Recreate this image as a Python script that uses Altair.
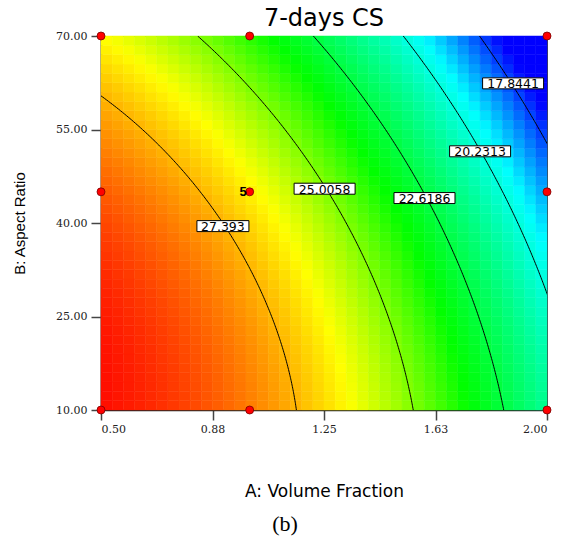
import altair as alt
import numpy as np
import pandas as pd

# ---------------- data ----------------
x_ticks = [0.5, 0.875, 1.25, 1.625, 2.0]
y_ticks = [10, 25, 40, 55, 70]
A_range = [0.5, 2.0]
B_range = [10.0, 70.0]

# quadratic response surface in coded units a=(A-1.25)/0.75, b=(B-40)/30
# coefficients estimated from where the contours cross the plot edges
coef_c0 = 25.50
coef_a = -4.82
coef_b = -2.27
coef_aa = -1.43
coef_bb = -0.87
coef_ab = -0.66

# response values where the colour ramp reaches blue, cyan, green, yellow, red
color_stop_values = [17.2, 19.7, 23.6, 26.4, 29.8]
color_stops = ["#0000ff", "#00ffff", "#00ff00", "#ffff00", "#ff0000"]

contour_levels = [17.8441, 20.2313, 22.6186, 25.0058, 27.393]
contour_texts = ["17.8441", "20.2313", "22.6186", "25.0058", "27.393"]
label_A = [1.886, 1.775, 1.588, 1.252, 0.910]
label_B = [62.4, 51.5, 44.0, 45.5, 39.5]

design_A = [0.5, 1.0, 2.0, 0.5, 1.0, 2.0, 0.5, 1.0, 2.0]
design_B = [70, 70, 70, 45, 45, 45, 10, 10, 10]
center_count_A = [1.0]
center_count_B = [45]
center_count_text = ["5"]

title_text = ["7-days CS"]
caption_text = ["(b)"]
n_cells = 40


def surface(A, B):
    a = (np.asarray(A) - 1.25) / 0.75
    b = (np.asarray(B) - 40.0) / 30.0
    return (coef_c0 + coef_a * a + coef_b * b + coef_aa * a * a
            + coef_bb * b * b + coef_ab * a * b)


# ---------------- tables ----------------
A_edges = np.linspace(A_range[0], A_range[1], n_cells + 1)
B_edges = np.linspace(B_range[0], B_range[1], n_cells + 1)
rows = []
for i in range(n_cells):
    for j in range(n_cells):
        ac = 0.5 * (A_edges[i] + A_edges[i + 1])
        bc = 0.5 * (B_edges[j] + B_edges[j + 1])
        rows.append({"A": A_edges[i], "A2": A_edges[i + 1],
                     "B": B_edges[j], "B2": B_edges[j + 1],
                     "z": float(surface(ac, bc))})
heat_df = pd.DataFrame(rows)

line_rows = []
bs = np.linspace(-1, 1, 241)
for lev in contour_levels:
    Bp = coef_a + coef_ab * bs
    Cp = coef_c0 + coef_b * bs + coef_bb * bs * bs - lev
    D = Bp * Bp - 4 * coef_aa * Cp
    for k, b in enumerate(bs):
        if D[k] < 0:
            continue
        a = (-Bp[k] - np.sqrt(D[k])) / (2 * coef_aa)
        if -1.06 <= a <= 1.06:
            line_rows.append({"level": lev, "A": 1.25 + 0.75 * a,
                              "B": 40 + 30 * b, "o": k})
line_df = pd.DataFrame(line_rows)

lab_df = pd.DataFrame({"A": label_A, "B": label_B, "t": contour_texts,
                       "n": [len(t) for t in contour_texts]})
pt_df = pd.DataFrame({"A": design_A, "B": design_B})
cnt_df = pd.DataFrame({"A": center_count_A, "B": center_count_B,
                       "t": center_count_text})
cap_df = pd.DataFrame({"t": caption_text})
ttl_df = pd.DataFrame({"t": title_text})

# ---------------- scales / axes ----------------
xscale = alt.Scale(domain=A_range, nice=False, zero=False)
yscale = alt.Scale(domain=B_range, nice=False, zero=False)
cscale = alt.Scale(domain=color_stop_values, range=color_stops,
                   interpolate="rgb", clamp=True)

xaxis = alt.Axis(values=x_ticks, format=".2f", grid=False,
                 title="A: Volume Fraction", titleFont="DejaVu Sans",
                 titleFontSize=17, titleFontWeight="normal", titleColor="#000",
                 titlePadding=49, labelFont="DejaVu Serif", labelFontSize=11,
                 labelColor="#222", labelPadding=3, tickSize=10, tickColor="#444",
                 tickWidth=1.5, domainColor="#222", domainWidth=1.5)
yaxis = alt.Axis(values=y_ticks, format=".2f", grid=False,
                 title="B: Aspect Ratio", titleFont="Liberation Sans",
                 titleFontSize=15, titleFontWeight="normal", titleColor="#000",
                 titlePadding=28, labelFont="DejaVu Serif", labelFontSize=11,
                 labelColor="#222", labelPadding=4, tickSize=10, tickColor="#444",
                 tickWidth=1.5, domainColor="#444", domainWidth=2)

heat = alt.Chart(heat_df).mark_rect(strokeWidth=0.5).encode(
    x=alt.X("A:Q", scale=xscale, axis=xaxis),
    x2="A2:Q",
    y=alt.Y("B:Q", scale=yscale, axis=yaxis),
    y2="B2:Q",
    fill=alt.Fill("z:Q", scale=cscale, legend=None),
    stroke=alt.Stroke("z:Q", scale=cscale, legend=None),
)

lines = alt.Chart(line_df).mark_line(color="black", strokeWidth=1, clip=True).encode(
    x="A:Q", y="B:Q", detail="level:N", order="o:Q")

box7 = alt.Chart(lab_df).transform_filter("datum.n == 7").mark_rect(
    fill="white", stroke="black", strokeWidth=1,
    xOffset=-30.5, x2Offset=30.5, yOffset=-5.5, y2Offset=5.5).encode(
    x="A:Q", x2="A:Q", y="B:Q", y2="B:Q")
box6 = alt.Chart(lab_df).transform_filter("datum.n == 6").mark_rect(
    fill="white", stroke="black", strokeWidth=1,
    xOffset=-26, x2Offset=26, yOffset=-5.5, y2Offset=5.5).encode(
    x="A:Q", x2="A:Q", y="B:Q", y2="B:Q")
labtxt = alt.Chart(lab_df).mark_text(font="DejaVu Sans", fontSize=12.5,
                                     color="black", baseline="middle",
                                     align="center", dy=1).encode(
    x="A:Q", y="B:Q", text="t:N")

pts = alt.Chart(pt_df).mark_point(shape="circle", filled=True, fill="#ff0000",
                                  stroke="#7a0000", strokeWidth=0.8, size=64,
                                  opacity=1).encode(x="A:Q", y="B:Q")
cnt = alt.Chart(cnt_df).mark_text(font="Liberation Sans", fontSize=13,
                                  fontWeight="bold", color="black",
                                  align="right", baseline="middle", dx=-3).encode(
    x="A:Q", y="B:Q", text="t:N")
cap = alt.Chart(cap_df).mark_text(font="Liberation Serif", fontSize=22,
                                  color="black", align="center",
                                  baseline="middle").encode(
    x=alt.value(184), y=alt.value(488), text="t:N")
ttl = alt.Chart(ttl_df).mark_text(font="DejaVu Sans", fontSize=24,
                                  color="black", align="center",
                                  baseline="alphabetic").encode(
    x=alt.value(223), y=alt.value(-10), text="t:N")

chart = alt.layer(heat, lines, box7, box6, labtxt, pts, cnt, cap, ttl).properties(
    width=446, height=374,
    autosize=alt.AutoSizeParams(type="none"),
    padding={"left": 101, "top": 36, "right": 14, "bottom": 129},
).configure_view(stroke="#444", strokeWidth=1)

chart.save("out.html", embed_options={"renderer": "svg", "actions": False})
